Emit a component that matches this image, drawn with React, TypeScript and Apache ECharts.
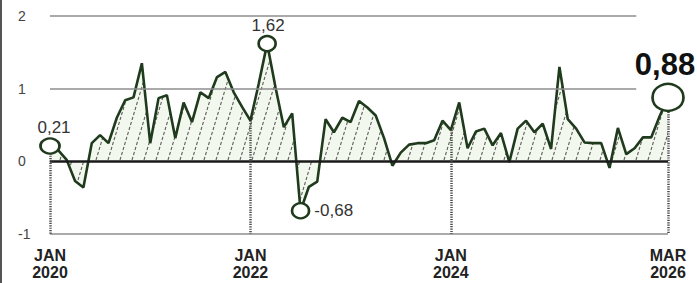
import React, { useEffect, useRef } from "react";
import * as echarts from "echarts";

const START_YEAR = 2020;
const MONTH_NAMES = ["JAN", "FEB", "MAR", "APR", "MAY", "JUN", "JUL", "AUG", "SEP", "OCT", "NOV", "DEC"];

// Monthly values, Jan 2020 .. Mar 2026
const values = [
  0.21, 0.15, 0.02, -0.27, -0.36, 0.25, 0.36, 0.25, 0.6, 0.84, 0.88, 1.35,
  0.25, 0.87, 0.91, 0.32, 0.81, 0.54, 0.95, 0.87, 1.16, 1.23, 0.95, 0.75,
  0.56, 1.07, 1.62, 1.02, 0.47, 0.66, -0.68, -0.35, -0.28, 0.58, 0.4, 0.6,
  0.54, 0.83, 0.74, 0.63, 0.32, -0.06, 0.12, 0.23, 0.25, 0.25, 0.29, 0.56,
  0.43, 0.81, 0.18, 0.41, 0.45, 0.22, 0.39, -0.01, 0.45, 0.56, 0.4, 0.52,
  0.17, 1.3, 0.58, 0.45, 0.26, 0.25, 0.25, -0.09, 0.46, 0.1, 0.18, 0.33,
  0.33, 0.62, 0.88,
];

const categories = values.map(
  (_, i) => `${MONTH_NAMES[i % 12]}\n${START_YEAR + Math.floor(i / 12)}`
);

const xTickIndices = [0, 24, 48, 74];
const yTicks = [-1, 0, 1, 2];
const gridLinesShort = [2, 1];
const gridLinesFull = [-1];
const annotatedIndices = [0, 26, 30, 74];

const fmt = (v: number) => v.toFixed(2).replace(".", ",");

function makeHatch(): HTMLCanvasElement {
  const w = 12;
  const h = 40;
  const c = document.createElement("canvas");
  c.width = w;
  c.height = h;
  const ctx = c.getContext("2d")!;
  ctx.fillStyle = "#f3f8ee";
  ctx.fillRect(0, 0, w, h);
  ctx.strokeStyle = "#5e5e5e";
  ctx.lineWidth = 1.1;
  const len = Math.hypot(w, h);
  const period = len / 8;
  ctx.setLineDash([period * 0.62, period * 0.38]);
  for (const dx of [-w, 0, w]) {
    ctx.beginPath();
    ctx.moveTo(dx, h);
    ctx.lineTo(dx + w, 0);
    ctx.stroke();
  }
  return c;
}

export default function App() {
  const ref = useRef<HTMLDivElement>(null);

  useEffect(() => {
    if (!ref.current) return;
    const chart = echarts.init(ref.current, undefined, { renderer: "svg" });
    const seriesData = values.map((v, i) => [i, v]);
    const lastShort = 70.2;
    const gridColor = "#8e8e8e";
    const green = "#1f3a1c";
    const yMin = yTicks[0];

    const annotationStyles: Record<number, any> = {
      0: { size: [19, 15], label: { position: "top", distance: 1, offset: [4, 0] } },
      26: { size: [17, 15], label: { position: "top", distance: 1, offset: [1, 0] } },
      30: { size: [17, 15], label: { position: "right", distance: 4, offset: [0, 0] } },
      74: {
        size: [31, 27],
        label: {
          position: "top",
          distance: 3,
          offset: [-3, 0],
          fontSize: 31,
          fontWeight: "bold",
          color: "#111",
        },
      },
    };

    const option: any = {
      animation: false,
      backgroundColor: "#fff",
      textStyle: { fontFamily: "Liberation Sans, Arial, sans-serif" },
      grid: { left: 50, right: 29, top: 16, bottom: 49, outerBoundsMode: "none" },
      xAxis: {
        type: "value",
        min: 0,
        max: categories.length - 1,
        axisLine: { show: false },
        axisTick: { show: false },
        splitLine: { show: false },
        axisLabel: {
          customValues: xTickIndices,
          formatter: (v: number) => categories[Math.round(v)] ?? "",
          fontSize: 16,
          lineHeight: 17,
          fontWeight: "bold",
          color: "#222",
          margin: 13,
          showMinLabel: true,
          showMaxLabel: true,
        },
      },
      yAxis: {
        type: "value",
        min: yMin,
        max: yTicks[yTicks.length - 1],
        interval: 1,
        axisLine: { show: false },
        axisTick: { show: false },
        splitLine: { show: false },
        axisLabel: {
          align: "left",
          margin: 32,
          fontSize: 14,
          color: "#444",
        },
      },
      graphic: [
        {
          type: "rect",
          left: 0,
          top: 0,
          shape: { width: 2, height: 283 },
          style: { fill: "#555" },
        },
      ],
      series: [
        {
          type: "line",
          z: 1,
          silent: true,
          data: seriesData,
          showSymbol: false,
          lineStyle: { opacity: 0 },
          markLine: {
            symbol: "none",
            silent: true,
            label: { show: false },
            data: [
              ...gridLinesShort.map((y) => [
                { coord: [0, y], lineStyle: { color: gridColor, width: 1.5, type: "solid" } },
                { coord: [lastShort, y] },
              ]),
              ...gridLinesFull.map((y) => [
                { coord: [0, y], lineStyle: { color: gridColor, width: 1.5, type: "solid" } },
                { coord: [categories.length - 1, y] },
              ]),
            ],
          },
        },
        {
          type: "line",
          z: 2,
          data: seriesData,
          showSymbol: false,
          lineStyle: { color: green, width: 2.6 },
          areaStyle: {
            color: { image: makeHatch(), repeat: "repeat", imageWidth: 12, imageHeight: 40 },
            opacity: 1,
          },
        },
        {
          type: "line",
          z: 3,
          silent: true,
          data: seriesData,
          showSymbol: false,
          lineStyle: { opacity: 0 },
          markLine: {
            symbol: "none",
            silent: true,
            label: { show: false },
            data: [
              [
                { coord: [0, 0], lineStyle: { color: "#1a1a1a", width: 2.6, type: "solid" } },
                { coord: [categories.length - 1, 0] },
              ],
              ...xTickIndices.map((i) => [
                {
                  coord: [i, values[i]],
                  lineStyle: { color: "#4a4a4a", width: 2.5, type: [1.2, 1.2] },
                },
                { coord: [i, yMin] },
              ]),
            ],
          },
        },
        {
          type: "line",
          z: 4,
          data: seriesData,
          showSymbol: false,
          lineStyle: { opacity: 0 },
          markPoint: {
            silent: true,
            symbol: "circle",
            data: annotatedIndices.map((i) => {
              const st = annotationStyles[i];
              return {
                coord: [i, values[i]],
                symbolSize: st.size,
                itemStyle: { color: "#fff", borderColor: green, borderWidth: 2.5 },
                label: {
                  show: true,
                  formatter: fmt(values[i]),
                  fontSize: 17,
                  color: "#333",
                  ...st.label,
                },
              };
            }),
          },
        },
      ],
    };

    chart.setOption(option);
    return () => chart.dispose();
  }, []);

  return (
    <div
      ref={ref}
      style={{ position: "fixed", left: 0, top: 0, width: 697, height: 283, background: "#fff" }}
    />
  );
}
